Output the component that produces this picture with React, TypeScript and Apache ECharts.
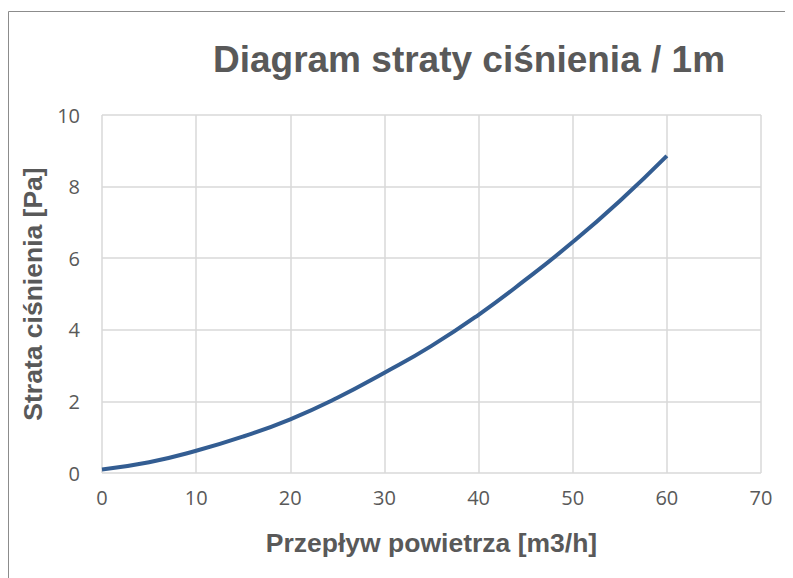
import React, { useEffect, useRef } from "react";
import * as echarts from "echarts";

const flowValues = [0, 5, 10, 15, 20, 25, 30, 35, 40, 45, 50, 55, 60];
const pressureLoss = [0.1, 0.3, 0.62, 1.02, 1.5, 2.1, 2.8, 3.55, 4.42, 5.4, 6.45, 7.6, 8.86];
const titleText = "Diagram straty ciśnienia / 1m";
const xAxisTitle = "Przepływ powietrza [m3/h]";
const yAxisTitle = "Strata ciśnienia [Pa]";

export default function App() {
  const ref = useRef<HTMLDivElement>(null);
  useEffect(() => {
    if (!ref.current) return;
    const chart = echarts.init(ref.current, null, { renderer: "svg" });
    chart.setOption({
      animation: false,
      title: {
        text: titleText,
        left: 456,
        top: 28,
        textAlign: "center",
        textStyle: {
          fontFamily: "Liberation Sans, Arial, sans-serif",
          fontWeight: "bold",
          fontSize: 37,
          color: "#595959",
        },
      },
      graphic: [
        {
          type: "rect",
          shape: { x: 0.5, y: 3.5, width: 2000, height: 2000 },
          style: { fill: "none", stroke: "#8c8c8c", lineWidth: 1 },
          silent: true,
        },
      ],
      grid: { left: 94, right: 32, top: 107, bottom: 105 },
      xAxis: {
        type: "value",
        min: 0,
        max: 70,
        interval: 10,
        name: xAxisTitle,
        nameLocation: "middle",
        nameGap: 56,
        nameTextStyle: { fontFamily: "Liberation Sans, Arial, sans-serif", fontWeight: "bold", fontSize: 26.5, color: "#595959" },
        axisLine: { show: false },
        axisTick: { show: false },
        axisLabel: { margin: 14, fontFamily: "Open Sans, sans-serif", fontSize: 20, color: "#595959" },
        splitLine: { show: true, lineStyle: { color: "#d9d9d9", width: 1.5 } },
      },
      yAxis: {
        type: "value",
        min: 0,
        max: 10,
        interval: 2,
        name: yAxisTitle,
        nameLocation: "middle",
        nameGap: 54,
        nameTextStyle: { fontFamily: "Liberation Sans, Arial, sans-serif", fontWeight: "bold", fontSize: 26.5, color: "#595959" },
        axisLine: { show: false },
        axisTick: { show: false },
        axisLabel: { margin: 22, fontFamily: "Open Sans, sans-serif", fontSize: 20, color: "#595959" },
        splitLine: { show: true, lineStyle: { color: "#d9d9d9", width: 1.5 } },
      },
      series: [
        {
          type: "line",
          data: flowValues.map((x, i) => [x, pressureLoss[i]]),
          smooth: true,
          showSymbol: false,
          lineStyle: { color: "#335d92", width: 4 },
        },
      ],
    });
    return () => chart.dispose();
  }, []);
  return <div ref={ref} style={{ width: 785, height: 570 }} />;
}
